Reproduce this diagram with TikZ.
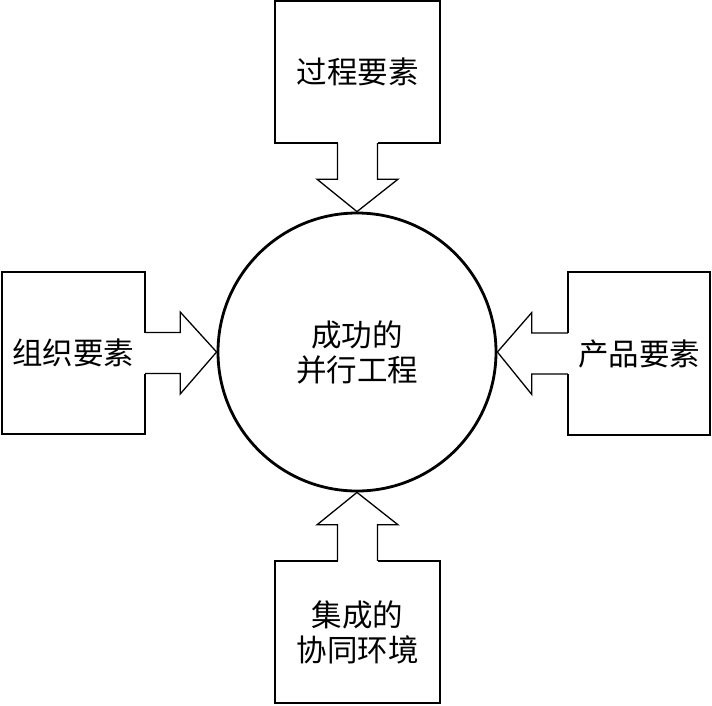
\documentclass[tikz,border=0pt]{standalone}
\usepackage{fontspec}
\newfontfamily\cjk{Noto Sans CJK SC}
\usetikzlibrary{calc}
\begin{document}
\begin{tikzpicture}[x=1pt,y=-1pt,
  lbl/.style={font=\cjk\fontsize{30.5}{35}\selectfont, align=center, inner sep=0pt},
  circ/.style={circle, draw, line width=2.8pt, minimum size=278pt, inner sep=0pt, lbl},
  boxline/.style={line width=1.9pt, line join=miter},
  arrline/.style={line width=1.3pt, line join=miter}]
\useasboundingbox (0,0) rectangle (712,705);
\fill[white] (0,0) rectangle (712,705);
% centre
\node[circ] (c) at (357,352) {成功的\\并行工程};
% boxes (outlines drawn below)
\node[lbl, minimum width=164pt, minimum height=142pt] (p) at (357.5,72) {过程要素};
\node[lbl, minimum width=143pt, minimum height=162pt] (o) at (73.5,353) {组织要素};
\node[lbl, minimum width=142pt, minimum height=163pt] (r) at (639,353.5) {产品要素};
\node[lbl, minimum width=164pt, minimum height=142pt] (b) at (357.5,632) {集成的\\协同环境};
% top box + arrow
\draw[boxline] ($(p.south)+(-20,0)$) -- (p.south west) -- (p.north west) -- (p.north east) -- (p.south east) -- ($(p.south)+(20,0)$);
\draw[arrline] ($(p.south)+(-20,0)$) -- ($(p.south)+(-20,36)$) -- ($(p.south)+(-40.5,36)$) -- (c.north) -- ($(p.south)+(40.5,36)$) -- ($(p.south)+(20,36)$) -- ($(p.south)+(20,0)$);
% left box + arrow
\draw[boxline] ($(o.east)+(0,-20.5)$) -- (o.north east) -- (o.north west) -- (o.south west) -- (o.south east) -- ($(o.east)+(0,20.5)$);
\draw[arrline] ($(o.east)+(0,-20.5)$) -- ($(o.east)+(35,-20.5)$) -- ($(o.east)+(35,-41)$) -- (c.west) -- ($(o.east)+(35,41)$) -- ($(o.east)+(35,20.5)$) -- ($(o.east)+(0,20.5)$);
% right box + arrow
\draw[boxline] ($(r.west)+(0,-20.5)$) -- (r.north west) -- (r.north east) -- (r.south east) -- (r.south west) -- ($(r.west)+(0,20.5)$);
\draw[arrline] ($(r.west)+(0,-20.5)$) -- ($(r.west)+(-36,-20.5)$) -- ($(r.west)+(-36,-41)$) -- (c.east) -- ($(r.west)+(-36,41)$) -- ($(r.west)+(-36,20.5)$) -- ($(r.west)+(0,20.5)$);
% bottom box + arrow
\draw[boxline] ($(b.north)+(-20,0)$) -- (b.north west) -- (b.south west) -- (b.south east) -- (b.north east) -- ($(b.north)+(20,0)$);
\draw[arrline] ($(b.north)+(-20,0)$) -- ($(b.north)+(-20,-36)$) -- ($(b.north)+(-40.5,-36)$) -- (c.south) -- ($(b.north)+(40.5,-36)$) -- ($(b.north)+(20,-36)$) -- ($(b.north)+(20,0)$);
\end{tikzpicture}
\end{document}
